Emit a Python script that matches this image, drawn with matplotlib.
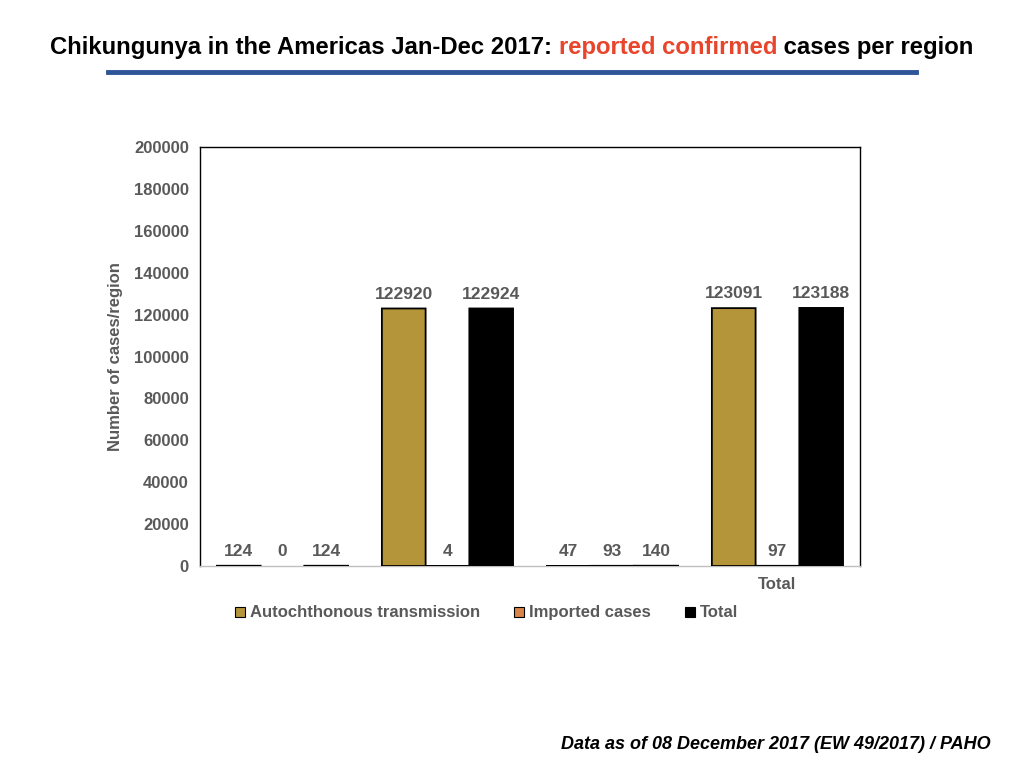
import numpy as np
import matplotlib.pyplot as plt
from matplotlib.lines import Line2D

plt.rcParams['font.family'] = ['Liberation Sans', 'DejaVu Sans']

categories = ['', '', '', 'Total']
autochthonous = [124, 122920, 47, 123091]
imported = [0, 4, 93, 97]
total = [124, 122924, 140, 123188]

series = [
    ('Autochthonous transmission', autochthonous, '#B5953A'),
    ('Imported cases', imported, '#D9844A'),
    ('Total', total, '#000000'),
]

gray = '#595959'
fs = 12

fig = plt.figure(figsize=(10.24, 7.68), dpi=100)
ax = fig.add_axes([0.1953, 0.263, 0.6445, 0.5456])

x = np.arange(len(categories))
w = 0.265
for i, (name, vals, col) in enumerate(series):
    pos = x + (i - 1) * w
    lw = [0 if v == 0 else 1.3 for v in vals]
    bars = ax.bar(pos, vals, width=w, color=col, edgecolor='black', linewidth=lw,
                  label=name, zorder=3)
    for b, v in zip(bars, vals):
        b.set_snap(False)
        ax.annotate(str(v), (b.get_x() + b.get_width() / 2, v), xytext=(0, 5),
                    textcoords='offset points', ha='center', va='bottom',
                    fontsize=12.5, fontweight='bold', color=gray)

ax.set_xlim(-0.5, len(categories) - 0.5)
ax.set_ylim(0, 200000)
ax.set_yticks(np.arange(0, 200001, 20000))
ax.set_xticks(x)
ax.set_xticklabels(categories)
ax.tick_params(axis='both', length=0, labelsize=fs, labelcolor=gray, pad=8)
for lab in ax.get_xticklabels() + ax.get_yticklabels():
    lab.set_fontweight('bold')
ax.set_ylabel('Number of cases/region', fontsize=fs, fontweight='bold', color=gray,
              labelpad=8)
for s in ax.spines.values():
    s.set_color('black')
    s.set_linewidth(1.0)
ax.spines['bottom'].set_color('#BFBFBF')

handles = [Line2D([], [], marker='s', linestyle='none', markersize=7,
                  markerfacecolor=c, markeredgecolor='black', markeredgewidth=0.8)
           for _, _, c in series]
fig.legend(handles, [n for n, _, _ in series], loc='center', bbox_to_anchor=(0.4745, 0.202),
           ncol=3, frameon=False, handlelength=0.7, handletextpad=0.25, columnspacing=2.0,
           prop={'size': fs, 'weight': 'bold'}, labelcolor=gray)

# title with coloured part
ty = 0.938
tfs = 17.2
t1 = fig.text(0.049, ty, 'Chikungunya in the Americas Jan-Dec 2017: ', fontsize=tfs,
              fontweight='bold', color='black', va='center')
fig.canvas.draw()
r = fig.canvas.get_renderer()
bb = t1.get_window_extent(r)
t2 = fig.text(bb.x1 / fig.bbox.width, ty, 'reported confirmed', fontsize=tfs,
              fontweight='bold', color='#E8452C', va='center')
bb2 = t2.get_window_extent(r)
t3 = fig.text(bb2.x1 / fig.bbox.width, ty, ' cases per region', fontsize=tfs,
              fontweight='bold', color='black', va='center')

fig.add_artist(Line2D([0.105, 0.895], [0.906, 0.906], color='#2E5597', linewidth=3.5))

fig.text(0.967, 0.031, 'Data as of 08 December 2017 (EW 49/2017) / PAHO', fontsize=13,
         fontweight='bold', fontstyle='italic', ha='right', va='center')

fig.savefig('out.png', dpi=100)
